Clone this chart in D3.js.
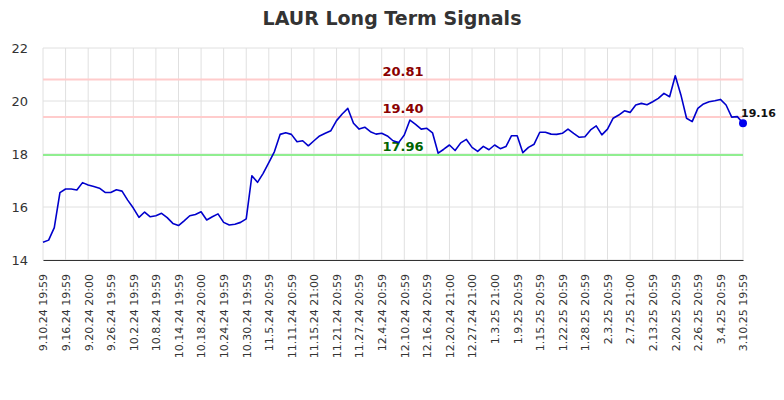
<!DOCTYPE html>
<html>
<head>
<meta charset="utf-8">
<script src="https://cdn.jsdelivr.net/npm/d3@7"></script>
<style>
  body { margin: 0; background: #fff; }
  svg { font-family: "DejaVu Sans", sans-serif; }
</style>
</head>
<body>
<svg id="chart" width="784" height="400"></svg>
<script>
const title = "LAUR Long Term Signals";
const prices = [
  14.67, 14.75, 15.22, 16.54, 16.68, 16.68, 16.64, 16.92, 16.83, 16.77,
  16.71, 16.55, 16.55, 16.65, 16.60, 16.26, 15.96, 15.61, 15.81, 15.63,
  15.67, 15.76, 15.60, 15.38, 15.30, 15.48, 15.67, 15.72, 15.82, 15.51,
  15.63, 15.74, 15.42, 15.32, 15.35, 15.42, 15.55, 17.18, 16.93, 17.27,
  17.67, 18.09, 18.74, 18.80, 18.74, 18.46, 18.50, 18.31, 18.50, 18.68,
  18.78, 18.88, 19.26, 19.51, 19.72, 19.16, 18.94, 19.01, 18.84, 18.75,
  18.78, 18.68, 18.50, 18.43, 18.72, 19.28, 19.12, 18.94, 18.97, 18.80,
  18.03, 18.18, 18.34, 18.13, 18.42, 18.55, 18.25, 18.10, 18.29, 18.16,
  18.34, 18.20, 18.28, 18.69, 18.69, 18.05, 18.25, 18.37, 18.82, 18.82,
  18.75, 18.74, 18.78, 18.94, 18.78, 18.63, 18.65, 18.91, 19.06, 18.72,
  18.94, 19.35, 19.47, 19.63, 19.57, 19.85, 19.91, 19.86, 19.97, 20.10,
  20.29, 20.16, 20.95, 20.23, 19.35, 19.22, 19.72, 19.89, 19.97, 20.01,
  20.06, 19.85, 19.39, 19.41, 19.16
];
const tickLabels = [
  "9.10.24 19:59", "9.16.24 19:59", "9.20.24 20:00", "9.26.24 19:59",
  "10.2.24 19:59", "10.8.24 19:59", "10.14.24 19:59", "10.18.24 20:00",
  "10.24.24 19:59", "10.30.24 19:59", "11.5.24 20:59", "11.11.24 20:59",
  "11.15.24 21:00", "11.21.24 20:59", "11.27.24 20:59", "12.4.24 20:59",
  "12.10.24 20:59", "12.16.24 20:59", "12.20.24 21:00", "12.27.24 21:00",
  "1.3.25 21:00", "1.9.25 20:59", "1.15.25 20:59", "1.22.25 20:59",
  "1.28.25 20:59", "2.3.25 20:59", "2.7.25 21:00", "2.13.25 20:59",
  "2.20.25 20:59", "2.26.25 20:59", "3.4.25 20:59", "3.10.25 19:59"
];
const tickStep = 4;
const yTicks = [14, 16, 18, 20, 22];
const resistanceLevels = [20.81, 19.40];
const supportLevels = [17.96];
const lastLabel = "19.16";

const svg = d3.select("#chart");
const margin = {left: 43, right: 41, top: 48, bottom: 140};
const W = 784, H = 400;
const x = d3.scaleLinear().domain([0, prices.length - 1]).range([margin.left, W - margin.right]);
const y = d3.scaleLinear().domain([14, 22]).range([H - margin.bottom, margin.top]);

const tickIdx = tickLabels.map((_, i) => i * tickStep);

// title
svg.append("text").attr("x", 392).attr("y", 25).attr("text-anchor", "middle")
  .attr("font-size", 19).attr("font-weight", "bold").attr("fill", "#333").text(title);

// grid
const grid = svg.append("g");
grid.selectAll("line.v").data(tickIdx).join("line")
  .attr("x1", d => x(d)).attr("x2", d => x(d))
  .attr("y1", y(22)).attr("y2", y(14))
  .attr("stroke", "#e0e0e0").attr("stroke-width", 1);
grid.selectAll("line.h").data(yTicks).join("line")
  .attr("x1", x(0)).attr("x2", x(prices.length - 1))
  .attr("y1", d => y(d)).attr("y2", d => y(d))
  .attr("stroke", "#e0e0e0").attr("stroke-width", 1);

// y axis labels
svg.append("g").selectAll("text").data(yTicks).join("text")
  .attr("x", 28).attr("y", d => y(d)).attr("dy", "0.35em")
  .attr("text-anchor", "end").attr("font-size", 13).attr("fill", "#333")
  .text(d => d);

// level lines
svg.append("g").selectAll("line").data(resistanceLevels).join("line")
  .attr("x1", x(0)).attr("x2", x(prices.length - 1))
  .attr("y1", d => y(d)).attr("y2", d => y(d))
  .attr("stroke", "#ffcccc").attr("stroke-width", 2);
svg.append("g").selectAll("line").data(supportLevels).join("line")
  .attr("x1", x(0)).attr("x2", x(prices.length - 1))
  .attr("y1", d => y(d)).attr("y2", d => y(d))
  .attr("stroke", "#90ee90").attr("stroke-width", 2);

svg.append("g").selectAll("text").data(resistanceLevels).join("text")
  .attr("x", 403).attr("y", d => y(d) - 4).attr("text-anchor", "middle")
  .attr("font-size", 13).attr("font-weight", "bold").attr("fill", "#8b0000")
  .text(d => d.toFixed(2));
svg.append("g").selectAll("text").data(supportLevels).join("text")
  .attr("x", 403).attr("y", d => y(d) - 4).attr("text-anchor", "middle")
  .attr("font-size", 13).attr("font-weight", "bold").attr("fill", "#006400")
  .text(d => d.toFixed(2));

// x axis
const xAxis = d3.axisBottom(x).tickValues(tickIdx).tickSize(0)
  .tickFormat((d, i) => tickLabels[i]);
const gx = svg.append("g").attr("transform", `translate(0,${y(14)})`).call(xAxis);
gx.select(".domain").attr("stroke", "#333").attr("stroke-width", 1.2);
gx.selectAll("text")
  .attr("font-family", "DejaVu Sans, sans-serif")
  .attr("font-size", 11).attr("fill", "#333")
  .attr("text-anchor", "end")
  .attr("transform", "rotate(-90)")
  .attr("x", -14).attr("y", 0).attr("dy", "0.35em");

// price line
const line = d3.line().x((d, i) => x(i)).y(d => y(d));
svg.append("path").datum(prices).attr("d", line)
  .attr("fill", "none").attr("stroke", "#0000cc").attr("stroke-width", 1.6)
  .attr("stroke-linejoin", "round");

// last point
const li = prices.length - 1;
svg.append("circle").attr("cx", x(li)).attr("cy", y(prices[li])).attr("r", 4).attr("fill", "#0000ee");
svg.append("text").attr("x", x(li) - 2).attr("y", y(prices[li]) - 6)
  .attr("font-size", 11).attr("font-weight", "bold").attr("fill", "#111").text(lastLabel);
</script>
</body>
</html>
